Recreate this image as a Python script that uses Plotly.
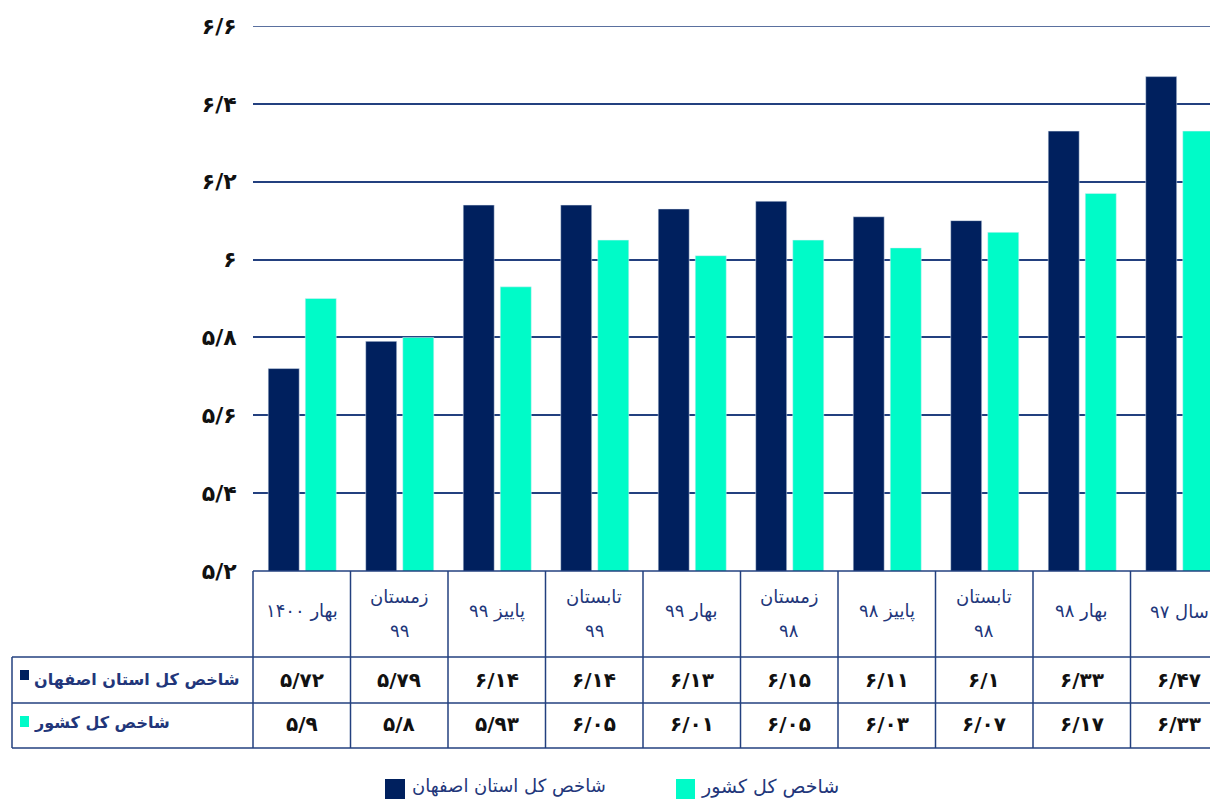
import plotly.graph_objects as go

categories = ["بهار ۱۴۰۰", "زمستان ۹۹", "پاییز ۹۹", "تابستان ۹۹", "بهار ۹۹",
              "زمستان ۹۸", "پاییز ۹۸", "تابستان ۹۸", "بهار ۹۸", "سال ۹۷"]
wrap_header = [False, True, False, True, False, True, False, True, False, False]
isfahan = [5.72, 5.79, 6.14, 6.14, 6.13, 6.15, 6.11, 6.1, 6.33, 6.47]
country = [5.9, 5.8, 5.93, 6.05, 6.01, 6.05, 6.03, 6.07, 6.17, 6.33]
series_names = ["شاخص کل استان اصفهان", "شاخص کل کشور"]
y_ticks = [5.2, 5.4, 5.6, 5.8, 6.0, 6.2, 6.4, 6.6]

FA = str.maketrans("0123456789.", "۰۱۲۳۴۵۶۷۸۹/")
def fa(v):
    return f"{v:g}".translate(FA)

NAVY = "#00205E"
CYAN = "#00FBC8"
LINE = "#23407F"
TXT = "#22367A"
FONT = "DejaVu Sans"

# page body has an 8px margin; figure origin sits at (8, 8) in the window
OFF = 8
W, H = 1218 - OFF, 799 - OFF
PLOT_L, PLOT_T, PLOT_B = 253, 26, 571          # window pixels
ML, MT = PLOT_L - OFF, PLOT_T - OFF
MB = H - (PLOT_B - OFF)
MR = 0
PW, PH = W - ML - MR, H - MT - MB
CAT_PX = 97.5
x_max = -0.5 + PW / CAT_PX

def py(p):  # window pixel y -> paper y
    return (PLOT_B - p) / PH
def px(p):  # window pixel x -> paper x
    return (p - PLOT_L) / PW

fig = go.Figure()
fig.add_bar(x=categories, y=isfahan, name=series_names[0], marker_color=NAVY,
            offset=-0.344, width=0.318, showlegend=False)
fig.add_bar(x=categories, y=country, name=series_names[1], marker_color=CYAN,
            offset=0.036, width=0.318, showlegend=False)

shapes = []
line = dict(color=LINE, width=1.5)
# top gridline
shapes.append(dict(type="line", xref="paper", yref="y", x0=0, x1=1,
                   y0=y_ticks[-1], y1=y_ticks[-1], line=line))
# horizontal table lines
for p in [657, 703, 748]:
    shapes.append(dict(type="line", xref="paper", yref="paper", x0=px(12), x1=1,
                       y0=py(p), y1=py(p), line=line))
shapes.append(dict(type="line", xref="paper", yref="paper", x0=0, x1=1,
                   y0=0, y1=0, line=line))
# vertical lines
shapes.append(dict(type="line", xref="paper", yref="paper", x0=px(12), x1=px(12),
                   y0=py(657), y1=py(748), line=line))
shapes.append(dict(type="line", xref="paper", yref="paper", x0=0, x1=0,
                   y0=0, y1=py(748), line=line))
for i in range(len(categories) - 1):
    shapes.append(dict(type="line", xref="x", yref="paper", x0=i + 0.5, x1=i + 0.5,
                       y0=0, y1=py(748), line=line))
# row label squares
shapes.append(dict(type="rect", xref="paper", yref="paper", x0=px(20), x1=px(29),
                   y0=py(670), y1=py(680), fillcolor=NAVY, line=dict(width=0)))
shapes.append(dict(type="rect", xref="paper", yref="paper", x0=px(20), x1=px(29),
                   y0=py(716), y1=py(727), fillcolor=CYAN, line=dict(width=0)))
# legend squares
shapes.append(dict(type="rect", xref="paper", yref="paper", x0=px(385), x1=px(405),
                   y0=py(779), y1=py(799), fillcolor=NAVY, line=dict(width=0)))
shapes.append(dict(type="rect", xref="paper", yref="paper", x0=px(676), x1=px(695),
                   y0=py(779), y1=py(799), fillcolor=CYAN, line=dict(width=0)))

ann = []
for i, (c, w) in enumerate(zip(categories, wrap_header)):
    if w:
        a, b = c.split(" ")
        ann.append(dict(x=i, y=py(597), text=a))
        ann.append(dict(x=i, y=py(630), text=b))
    else:
        ann.append(dict(x=i, y=py(611), text=c))
for a in ann:
    a.update(xref="x", yref="paper", showarrow=False, xanchor="center", yanchor="middle",
             font=dict(family=FONT, size=18, color=TXT))
for i, (v1, v2) in enumerate(zip(isfahan, country)):
    for v, p in [(v1, 680), (v2, 724)]:
        ann.append(dict(x=i, y=py(p), text=f"<b>{fa(v)}</b>", xref="x", yref="paper",
                        showarrow=False, xanchor="center", yanchor="middle",
                        font=dict(family=FONT, size=20, color="#111111")))
for nm, p in zip(series_names, [679, 722]):
    ann.append(dict(x=px(32), y=py(p), text=f"<b>{nm}</b>", xref="paper", yref="paper",
                    showarrow=False, xanchor="left", yanchor="middle",
                    font=dict(family=FONT, size=16, color=TXT)))
# legend texts
for nm, x0, sz in zip(series_names, [410, 699], [18, 19]):
    ann.append(dict(x=px(x0), y=py(786), text=nm, xref="paper", yref="paper",
                    showarrow=False, xanchor="left", yanchor="middle",
                    font=dict(family=FONT, size=sz, color=TXT)))

fig.update_layout(
    width=W, height=H,
    margin=dict(l=ML, r=MR, t=MT, b=MB),
    plot_bgcolor="white", paper_bgcolor="white",
    barmode="group", showlegend=False,
    shapes=shapes, annotations=ann,
    xaxis=dict(type="category", range=[-0.5, x_max], showticklabels=False,
               showgrid=False, zeroline=False, showline=False, fixedrange=True),
    yaxis=dict(range=[5.2, 6.6], tickvals=y_ticks,
               ticktext=[f"<b>{fa(t)}</b>" for t in y_ticks],
               tickfont=dict(family=FONT, size=22, color="#111111"),
               ticks="outside", ticklen=11, tickcolor="rgba(0,0,0,0)",
               showgrid=True, gridcolor=LINE, gridwidth=1.5,
               zeroline=False, showline=False),
)
fig.write_html("out.html")
